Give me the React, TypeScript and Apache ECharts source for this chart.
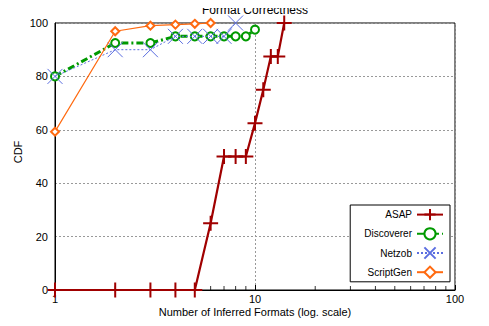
import React, { useEffect, useRef } from "react";
import * as echarts from "echarts";

const FONT = "Liberation Sans, Arial, sans-serif";

// CDF of inferred formats per tool
const asapX = [1, 2, 3, 4, 5, 6, 7, 8, 9, 10, 11, 12, 13, 14];
const asapY = [0, 0, 0, 0, 0, 25, 50, 50, 50, 62.5, 75, 87.5, 87.5, 100];

const discovererX = [1, 2, 3, 4, 5, 6, 7, 8, 9, 10];
const discovererY = [80, 92.5, 92.5, 95, 95, 95, 95, 95, 95, 97.5];

const netzobX = [1, 2, 3, 4, 5, 6, 7, 8];
const netzobY = [80, 90, 90, 95, 95, 95, 95, 100];

const scriptGenX = [1, 2, 3, 4, 5, 6];
const scriptGenY = [59.3, 96.9, 99, 99.4, 99.7, 100];

// log-scale minor tick positions on the x axis
const minorTicks = [2, 3, 4, 5, 6, 7, 8, 9, 20, 30, 40, 50, 60, 70, 80, 90];

const yTicks = [0, 20, 40, 60, 80, 100];

const ASAP_COLOR = "#a00000";
const DISC_COLOR = "#009a00";
const NETZOB_COLOR = "#5b6ee0";
const SG_COLOR = "#ff6a10";

const pair = (xs: number[], ys: number[]) => xs.map((x, i) => [x, ys[i]]);

export default function App() {
  const ref = useRef<HTMLDivElement>(null);

  useEffect(() => {
    if (!ref.current) return;
    const chart = echarts.init(ref.current, null, { renderer: "svg" });
    chart.setOption({
      animation: false,
      backgroundColor: "#fff",
      textStyle: { fontFamily: FONT },
      graphic: [
        {
          type: "text",
          x: 255,
          y: 10,
          z: 10,
          style: {
            text: "Format Correctness",
            fill: "#000",
            font: `12px ${FONT}`,
            textAlign: "center",
            textVerticalAlign: "middle",
          },
        },
      ],
      grid: {
        left: 55,
        right: 34,
        top: 23,
        bottom: 36,
        outerBoundsMode: "none",
        containLabel: false,
        show: true,
        borderColor: "#000",
        borderWidth: 1,
        backgroundColor: "transparent",
      },
      legend: {
        orient: "vertical",
        right: 39,
        top: 205,
        align: "right",
        itemWidth: 26,
        itemHeight: 14,
        itemGap: 6,
        padding: [3, 6, 3, 14],
        borderColor: "#000",
        borderWidth: 1,
        borderRadius: 0,
        backgroundColor: "#fff",
        textStyle: { fontSize: 10, color: "#000", fontFamily: FONT },
        data: ["ASAP", "Discoverer", "Netzob", "ScriptGen"],
      },
      xAxis: {
        type: "log",
        logBase: 10,
        min: 1,
        max: 100,
        name: "Number of Inferred Formats (log. scale)",
        nameLocation: "middle",
        nameGap: 16,
        nameMoveOverlap: false,
        nameTextStyle: { fontSize: 11, color: "#000", fontFamily: FONT },
        axisLine: { show: true, lineStyle: { color: "#000", width: 1 } },
        axisTick: { show: true, inside: true, length: 5, lineStyle: { color: "#000" } },
        axisLabel: { fontSize: 11, color: "#000", margin: 3, fontFamily: FONT },
        splitLine: { show: true, lineStyle: { color: "#999", type: [2, 2], width: 1 } },
      },
      yAxis: {
        type: "value",
        min: 0,
        max: 100,
        interval: 20,
        name: "CDF",
        nameLocation: "middle",
        nameGap: 32,
        nameRotate: 90,
        nameMoveOverlap: false,
        nameTextStyle: { fontSize: 11, color: "#000", fontFamily: FONT, padding: [0, 0, 0, 9] },
        axisLine: { show: true, lineStyle: { color: "#000", width: 1 } },
        axisTick: { show: false },
        axisLabel: {
          fontSize: 11,
          color: "#000",
          margin: 7,
          fontFamily: FONT,
          formatter: (v: number) => (yTicks.includes(v) ? String(v) : ""),
        },
        splitLine: { show: true, lineStyle: { color: "#999", type: [2, 2], width: 1 } },
      },
      series: [
        {
          name: "minor",
          type: "scatter",
          data: minorTicks.map((x) => [x, 0]),
          symbol: "rect",
          symbolSize: [1, 4],
          symbolOffset: [0, -2],
          itemStyle: { color: "#000" },
          silent: true,
          z: 1,
        },
        {
          name: "ASAP",
          type: "line",
          data: pair(asapX, asapY),
          clip: false,
          symbol: "path://M0,-7L0,7M-7,0L7,0",
          symbolSize: 15,
          lineStyle: { color: ASAP_COLOR, width: 2.2 },
          itemStyle: { color: ASAP_COLOR, borderColor: ASAP_COLOR, borderWidth: 2 },
          z: 3,
        },
        {
          name: "Discoverer",
          type: "line",
          data: pair(discovererX, discovererY),
          clip: false,
          symbol: "emptyCircle",
          symbolSize: 8,
          lineStyle: { color: DISC_COLOR, width: 3, type: [7, 3, 2, 3] },
          itemStyle: { color: DISC_COLOR, borderColor: DISC_COLOR, borderWidth: 3 },
          z: 4,
        },
        {
          name: "Netzob",
          type: "line",
          data: pair(netzobX, netzobY),
          clip: false,
          symbol: "path://M-7,-7L7,7M-7,7L7,-7",
          symbolSize: 15,
          lineStyle: { color: NETZOB_COLOR, width: 1, type: [2, 2] },
          itemStyle: { color: NETZOB_COLOR, borderColor: NETZOB_COLOR, borderWidth: 1 },
          z: 5,
        },
        {
          name: "ScriptGen",
          type: "line",
          data: pair(scriptGenX, scriptGenY),
          clip: false,
          symbol: "emptyDiamond",
          symbolSize: 8,
          lineStyle: { color: SG_COLOR, width: 1.2 },
          itemStyle: { color: SG_COLOR, borderColor: SG_COLOR, borderWidth: 1 },
          z: 6,
        },
      ],
    });
    return () => chart.dispose();
  }, []);

  return <div ref={ref} style={{ width: 489, height: 326, margin: -8 }} />;
}
